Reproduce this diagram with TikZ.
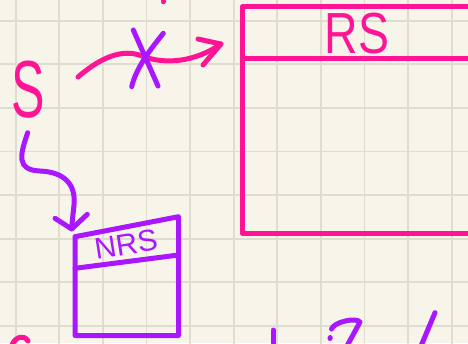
\documentclass[tikz,border=0pt]{standalone}
\usepackage{fontspec}
\setmainfont{Liberation Sans}
\definecolor{paper}{RGB}{247,245,233}
\definecolor{gridc}{RGB}{223,221,207}
\definecolor{pinkc}{RGB}{255,20,150}
\definecolor{purpc}{RGB}{170,22,255}
\begin{document}
\begin{tikzpicture}[x=1pt,y=-1pt,
  pen/.style={line width=5pt,line cap=round,line join=round},
  pinkpen/.style={pen,draw=pinkc},
  purppen/.style={pen,draw=purpc},
  gridline/.style={draw=gridc,line width=1.8pt},
  label/.style={inner sep=0pt,outer sep=0pt}]
\fill[paper] (0,0) rectangle (468,343);
\useasboundingbox (0,0) rectangle (468,343);
\begin{scope}
\clip (0,0) rectangle (468,343);
% grid
\foreach \i in {0,...,10} \draw[gridline] ({15.7+43.6*\i},-5) -- ++(0,360);
\foreach \j in {0,...,7} \draw[gridline] (-5,{20.7+43.6*\j}) -- ++(480,0);

% RS table (pink)
\coordinate (rsTL) at (242.7,6.7);
\coordinate (rsHL) at (242.7,58.7);
\coordinate (rsBL) at (242.7,233.3);
\draw[pinkpen] (480,6.7) -- (rsTL) -- (rsBL) -- (480,233.3);
\draw[pinkpen] (rsHL) -- (480,58.7);
\node[label,text=pinkc,font=\fontsize{58}{58}\selectfont,xscale=0.8] (rs) at (357,34) {RS};

% S label
\node[label,text=pinkc,font=\fontsize{81}{81}\selectfont,xscale=0.62] (s) at (28.5,90) {S};

% pink arrow towards RS
\coordinate (pa0) at (78,77);
\coordinate (patip) at (221,44);
\draw[pinkpen] (pa0) .. controls (100,58) and (122,48) .. (142,56)
  .. controls (165,65) and (195,62) .. (patip);
\draw[pinkpen] (198,39) -- (patip) -- (203,65);

% purple cross on the arrow
\draw[purppen] (133.3,30) -- (158,86);
\draw[purppen] (163.3,33.3) .. controls (150,50) and (136,68) .. (131.7,86.7);

% purple arrow from S to NRS
\coordinate (pb0) at (27.7,132.7);
\coordinate (pbtip) at (71.7,229);
\draw[purppen] (pb0) .. controls (20,155) and (16,170) .. (40,171)
  .. controls (65,172) and (76,185) .. (74,205)
  .. controls (73,215) and (72,222) .. (pbtip);
\draw[purppen] (55,218.3) -- (pbtip) -- (87.3,214.3);

% NRS table (purple)
\coordinate (nTL) at (75,236.7);
\coordinate (nTR) at (178.5,216.7);
\coordinate (nBL) at (75,335.5);
\coordinate (nBR) at (178.5,335.5);
\draw[purppen] (nTR) -- (nTL) -- (nBL) -- (nBR) -- cycle;
\draw[purppen] (75,268.3) -- (178.5,255);
\node[label,text=purpc,font=\fontsize{30}{30}\selectfont,rotate=9] (nrs) at (126,244.5) {NRS};

% cut-off marks at the edges
\draw[pinkpen] (163.3,-4) -- (163.3,1.8);
\draw[pinkpen] (12,345) .. controls (15,337) and (24,334) .. (28,341);
\draw[purppen] (273.3,330) -- (273.3,350);
\draw[purppen] (330,338.5) -- (330.2,337.5);
\draw[purppen] (331.5,329) .. controls (334,322) and (356,317) .. (360,322) -- (347,346);
\draw[purppen] (435,312.7) -- (421,346);
\end{scope}
\end{tikzpicture}
\end{document}
